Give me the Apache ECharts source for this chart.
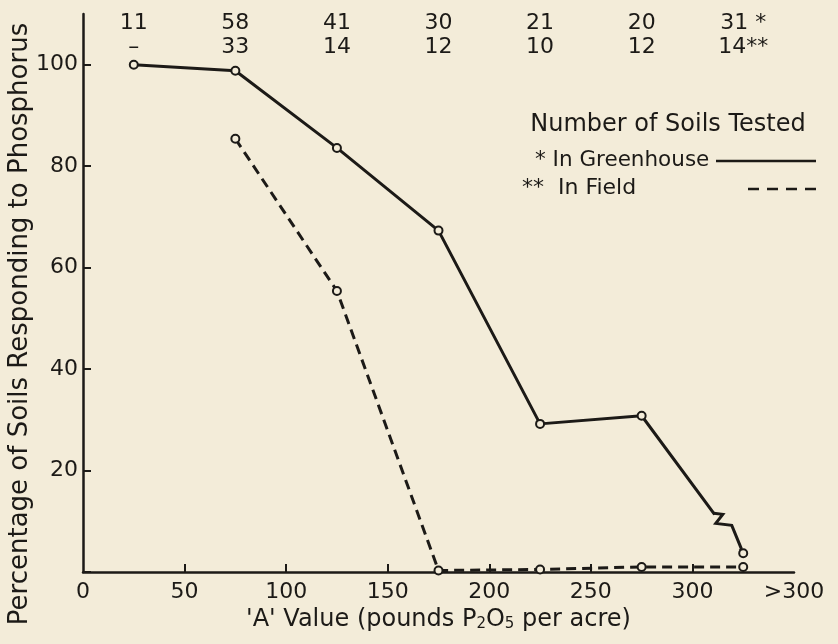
<!DOCTYPE html>
<html>
<head>
<meta charset="utf-8">
<script src="https://cdn.jsdelivr.net/npm/echarts@6/dist/echarts.min.js"></script>
<style>
html,body{margin:0;padding:0;background:#f3ecd9;}
#chart{width:838px;height:644px;}
</style>
</head>
<body>
<div id="chart"></div>
<script>
// ---- data ----
var xValues = [25, 75, 125, 175, 225, 275, 325];
var greenhouse = [100, 98.8, 83.6, 67.3, 29.2, 30.8, 3.7];
var fieldX = [75, 125, 175, 225, 275, 325];
var field = [85.4, 55.4, 0.3, 0.5, 1.0, 1.0];
var countsGreenhouse = ['11', '58', '41', '30', '21', '20', '31 *'];
var countsField = ['\u2013', '33', '14', '12', '10', '12', '14**'];
var xTickValues = [50, 100, 150, 200, 250, 300];
var xLabelValues = [0, 50, 100, 150, 200, 250, 300, 350];
var yTickValues = [0, 20, 40, 60, 80, 100];
var breakX = [310.5];

var ink = '#1c1a17';
var paper = '#f3ecd9';
var FONT = 'DejaVu Sans';

var chart = echarts.init(document.getElementById('chart'));

var ghData = xValues.map(function (x, i) { return [x, greenhouse[i]]; });
var fdData = fieldX.map(function (x, i) { return [x, field[i]]; });
var topRow = xValues.map(function (x, i) { return [x, 108.2, countsGreenhouse[i]]; });
var botRow = xValues.map(function (x, i) { return [x, 103.5, countsField[i]]; });

function countSeries(data) {
  return {
    type: 'scatter', data: data, symbol: 'circle', symbolSize: 1,
    itemStyle: { color: 'rgba(0,0,0,0)', opacity: 1 }, silent: true,
    label: { show: true, position: 'inside', opacity: 1, formatter: function (p) { return p.data[2]; }, fontFamily: FONT, fontSize: 22, color: ink }
  };
}

chart.setOption({
  backgroundColor: paper,
  animation: false,
  grid: { left: 83, right: 44, top: 14, bottom: 72, containLabel: false },
  xAxis: {
    type: 'value', min: 0, max: 350,
    name: '\'A\' Value (pounds P{sub|2}O{sub|5} per acre)',
    nameLocation: 'middle', nameGap: 35,
    nameTextStyle: {
      fontFamily: FONT, fontSize: 24, color: ink, padding: [0, 0, 0, 0],
      rich: { sub: { fontFamily: FONT, fontSize: 15, color: ink, verticalAlign: 'bottom', padding: [9, 0, 0, 0] } }
    },
    axisLine: { lineStyle: { color: ink, width: 2.5 } },
    axisTick: { show: true, inside: true, length: 8, customValues: xTickValues, lineStyle: { color: ink, width: 2 } },
    axisLabel: {
      customValues: xLabelValues, fontFamily: FONT, fontSize: 22, color: ink, margin: 9,
      formatter: function (v) { return v === 350 ? '>300' : String(v); }
    },
    splitLine: { show: false }
  },
  yAxis: {
    type: 'value', min: 0, max: 110,
    axisLine: { show: true, lineStyle: { color: ink, width: 2.5 } },
    axisTick: { show: true, inside: true, length: 8, customValues: yTickValues, lineStyle: { color: ink, width: 2 } },
    axisLabel: { customValues: yTickValues.slice(1), fontFamily: FONT, fontSize: 22, color: ink, margin: 5 },
    splitLine: { show: false }
  },
  series: [
    {
      name: 'In Greenhouse', type: 'line', data: ghData,
      symbol: 'circle', symbolSize: 8,
      lineStyle: { color: ink, width: 3 },
      itemStyle: { color: paper, borderColor: ink, borderWidth: 2 },
      z: 3
    },
    {
      name: 'In Field', type: 'line', data: fdData,
      symbol: 'circle', symbolSize: 8,
      lineStyle: { color: ink, width: 3, type: [10, 6] },
      itemStyle: { color: paper, borderColor: ink, borderWidth: 2 },
      z: 3
    },
    {
      // break (zigzag) mark on the greenhouse line before the ">300" point
      type: 'custom', data: breakX.map(function (v) { return [v]; }), z: 5, silent: true,
      dimensions: ['x'], encode: { x: 0 },
      renderItem: function (params, api) {
        var n = xValues.length;
        var A = api.coord([xValues[n - 2], greenhouse[n - 2]]);
        var B = api.coord([xValues[n - 1], greenhouse[n - 1]]);
        var bx = api.coord([api.value(0), 0])[0];
        var slope = (B[1] - A[1]) / (B[0] - A[0]);
        var P1 = [bx, A[1] + (bx - A[0]) * slope];
        var P2 = [P1[0] + 9, P1[1] + 1];
        var P3 = [P1[0] + 2, P1[1] + 10];
        var P4 = [P1[0] + 18, P1[1] + 12];
        var dx = B[0] - P4[0], dy = B[1] - P4[1];
        var L = Math.sqrt(dx * dx + dy * dy);
        var E = [B[0] - dx / L * 4.5, B[1] - dy / L * 4.5];
        var ex = B[0] - A[0], ey = B[1] - A[1];
        var LA = Math.sqrt(ex * ex + ey * ey);
        var M = [B[0] - ex / LA * 5.5, B[1] - ey / LA * 5.5];
        return {
          type: 'group',
          children: [
            { type: 'line', z2: 10, shape: { x1: P1[0] + 0.8, y1: P1[1] + 1.1, x2: M[0], y2: M[1] }, style: { stroke: paper, lineWidth: 7, lineCap: 'butt' } },
            {
              type: 'polyline', z2: 11,
              shape: { points: [P1, P2, P3, P4, E] },
              style: { stroke: ink, lineWidth: 3, fill: null, lineJoin: 'miter' }
            }
          ]
        };
      }
    },
    countSeries(topRow),
    countSeries(botRow)
  ],
  graphic: [
    {
      type: 'text', x: 20, y: 324, rotation: Math.PI / 2,
      style: { text: 'Percentage of Soils Responding to Phosphorus', fontFamily: FONT, fontSize: 26, fill: ink, align: 'center', verticalAlign: 'middle' }
    },
    { type: 'text', x: 668, y: 125, style: { text: 'Number of Soils Tested', fontFamily: FONT, fontSize: 24, fill: ink, align: 'center', verticalAlign: 'middle' } },
    { type: 'text', x: 535, y: 160, style: { text: '* In Greenhouse', fontFamily: FONT, fontSize: 21.5, fill: ink, align: 'left', verticalAlign: 'middle' } },
    { type: 'text', x: 522, y: 188, style: { text: '**  In Field', fontFamily: FONT, fontSize: 22, fill: ink, align: 'left', verticalAlign: 'middle' } },
    { type: 'line', shape: { x1: 716, y1: 161, x2: 816, y2: 161 }, style: { stroke: ink, lineWidth: 2.5 } },
    { type: 'line', shape: { x1: 748, y1: 189, x2: 816, y2: 189 }, style: { stroke: ink, lineWidth: 2.5, lineDash: [11, 8] } }
  ]
});
</script>
</body>
</html>
